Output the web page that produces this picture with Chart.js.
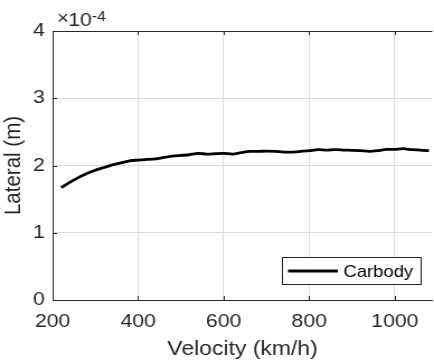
<!DOCTYPE html>
<html>
<head>
<meta charset="utf-8">
<script src="https://cdn.jsdelivr.net/npm/chart.js@4"></script>
<style>
  html, body { margin: 0; padding: 0; background: #fff; overflow: hidden; }
  /* 原图横向有拉伸，这里整体横向放大 */
  #wrap { width: 388px; height: 363px; transform: scaleX(1.1186); transform-origin: 0 0; }
</style>
</head>
<body>
<div id="wrap"><canvas id="chart"></canvas></div>
<script>
// 数据（单位 1e-4 m）
const velocity = [220, 240, 260, 280, 300, 320, 340, 360, 380, 400, 420, 440, 460, 480, 500,
  520, 540, 560, 580, 600, 620, 640, 660, 680, 700, 720, 740, 760, 780, 800, 820, 840,
  860, 880, 900, 920, 940, 960, 980, 1000, 1020, 1040, 1060, 1080];
const carbody = [1.67, 1.75, 1.82, 1.88, 1.93, 1.97, 2.01, 2.04, 2.07, 2.08, 2.09, 2.10, 2.12, 2.14, 2.15,
  2.16, 2.18, 2.17, 2.175, 2.18, 2.17, 2.19, 2.21, 2.21, 2.215, 2.21, 2.20, 2.20, 2.21, 2.22, 2.235, 2.23,
  2.235, 2.23, 2.225, 2.22, 2.21, 2.22, 2.24, 2.24, 2.25, 2.235, 2.23, 2.22];
const xTicks = [200, 400, 600, 800, 1000];
const yTicks = [0, 1, 2, 3, 4];

const FONT = '"Liberation Sans", Arial, Helvetica, sans-serif';
const TEXT = '#262626';

// 边框、内向刻度、指数标记、图例
const matlabAxes = {
  id: 'matlabAxes',
  afterDraw(chart) {
    const ctx = chart.ctx;
    const a = chart.chartArea;
    const xs = chart.scales.x, ys = chart.scales.y;
    ctx.save();
    ctx.strokeStyle = TEXT;
    ctx.lineWidth = 1;
    ctx.beginPath();
    ctx.moveTo(a.left, a.top + 0.5);
    ctx.lineTo(a.right, a.top + 0.5);
    xTicks.forEach(v => {
      const px = Math.round(xs.getPixelForValue(v)) + 0.5;
      ctx.moveTo(px, a.bottom); ctx.lineTo(px, a.bottom - 4);
      ctx.moveTo(px, a.top); ctx.lineTo(px, a.top + 4);
    });
    yTicks.forEach(v => {
      const py = Math.round(ys.getPixelForValue(v)) + 0.5;
      ctx.moveTo(a.left, py); ctx.lineTo(a.left + 4, py);
    });
    ctx.stroke();

    // ×10^-4
    ctx.fillStyle = TEXT;
    ctx.textBaseline = 'alphabetic';
    ctx.textAlign = 'left';
    ctx.font = '18px ' + FONT;
    ctx.fillText('\u00d7', 51, 24);
    ctx.font = '19px ' + FONT;
    ctx.fillText('10', 61, 26);
    ctx.font = '14px ' + FONT;
    ctx.fillText('-4', 82, 21);

    // 图例
    const ds = chart.data.datasets[0];
    const bx = 252.5, by = 257.5, bw = 124, bh = 27;
    ctx.fillStyle = '#fff';
    ctx.fillRect(bx, by, bw, bh);
    ctx.strokeStyle = TEXT;
    ctx.lineWidth = 1;
    ctx.strokeRect(bx, by, bw, bh);
    ctx.strokeStyle = ds.borderColor;
    ctx.lineWidth = ds.borderWidth;
    ctx.beginPath();
    ctx.moveTo(257.5, by + bh / 2);
    ctx.lineTo(302, by + bh / 2);
    ctx.stroke();
    ctx.fillStyle = '#000';
    ctx.font = '16.5px ' + FONT;
    ctx.textBaseline = 'middle';
    ctx.fillText(ds.label, 307, by + bh / 2 + 1);
    ctx.restore();
  }
};

new Chart(document.getElementById('chart'), {
  type: 'line',
  data: {
    labels: velocity,
    datasets: [{
      label: 'Carbody',
      data: velocity.map((v, i) => ({ x: v, y: carbody[i] })),
      borderColor: '#000',
      borderWidth: 2.8,
      pointRadius: 0,
      tension: 0.2,
      fill: false
    }]
  },
  options: {
    responsive: true,
    maintainAspectRatio: false,
    animation: false,
    layout: { padding: { top: 31, right: 0, bottom: 0, left: 0 } },
    plugins: {
      legend: { display: false },
      tooltip: { enabled: false }
    },
    scales: {
      x: {
        type: 'linear',
        min: 200,
        max: 1088,
        afterBuildTicks: s => { s.ticks = xTicks.map(v => ({ value: v })); },
        afterFit: s => { s.height = 63; },
        grid: { color: '#dcdcdc', drawTicks: false },
        border: { color: TEXT, width: 1 },
        ticks: { color: TEXT, font: { family: FONT, size: 19 }, padding: 10, maxRotation: 0,
          callback: v => String(v) },
        title: {
          display: true, text: 'Velocity (km/h)', color: TEXT,
          font: { family: FONT, size: 20.5 }, padding: { top: 0, bottom: 1 }
        }
      },
      y: {
        min: 0,
        max: 4,
        afterBuildTicks: s => { s.ticks = yTicks.map(v => ({ value: v })); },
        afterFit: s => { s.width = 47; },
        grid: { color: '#dcdcdc', drawTicks: false },
        border: { color: TEXT, width: 1 },
        ticks: { color: TEXT, font: { family: FONT, size: 19 }, padding: 7,
          callback: v => String(v) },
        title: {
          display: true, text: 'Lateral (m)', color: TEXT,
          font: { family: FONT, size: 20.5 }, padding: 0
        }
      }
    }
  },
  plugins: [matlabAxes]
});
</script>
</body>
</html>
